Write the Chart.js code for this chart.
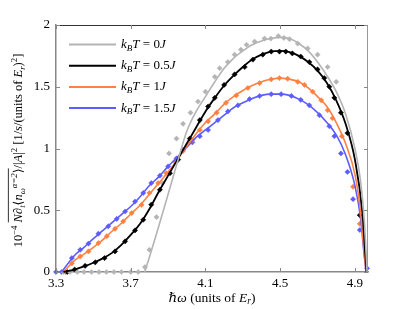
<!DOCTYPE html>
<html>
<head>
<meta charset="utf-8">
<script src="https://cdn.jsdelivr.net/npm/chart.js@4"></script>
<style>
  html, body { margin: 0; padding: 0; background: #fff; }
  #wrap { width: 411px; height: 309px; }
</style>
</head>
<body>
<div id="wrap"><canvas id="chart" width="411" height="309"></canvas></div>
<script>
// axis ticks
const xTicks = [3.3, 3.7, 4.1, 4.5, 4.9];
const yTicks = [0, 0.5, 1, 1.5, 2];
const temps = ["0", "0.5", "1", "1.5"];

// k_B T = 0J
const grayCurveX = [3.775, 3.8, 3.85, 3.9, 3.95, 4.0, 4.05, 4.1, 4.15, 4.2, 4.25, 4.3, 4.35, 4.4, 4.45, 4.5, 4.55, 4.6, 4.65, 4.7, 4.75, 4.8, 4.85, 4.9, 4.93, 4.95, 4.965];
const grayCurveY = [0, 0.12, 0.37, 0.63, 0.89, 1.14, 1.30, 1.42, 1.54, 1.65, 1.73, 1.79, 1.84, 1.87, 1.89, 1.90, 1.89, 1.85, 1.79, 1.70, 1.59, 1.46, 1.28, 1.0, 0.74, 0.42, 0];
const grayDotX = [3.34, 3.375, 3.414, 3.45, 3.49, 3.53, 3.57, 3.61, 3.65, 3.70, 3.74, 3.776, 3.80, 3.838, 3.87, 3.905, 3.945, 3.98, 4.02, 4.06, 4.10, 4.15, 4.176, 4.22, 4.256, 4.29, 4.32, 4.363, 4.416, 4.45, 4.49, 4.52, 4.55, 4.594, 4.647, 4.70, 4.754, 4.80];
const grayDotY = [0, 0, 0, 0, 0, 0, 0, 0, 0, 0, 0, 0.04, 0.18, 0.445, 0.72, 0.96, 1.08, 1.20, 1.29, 1.38, 1.46, 1.58, 1.65, 1.70, 1.76, 1.80, 1.84, 1.866, 1.89, 1.89, 1.91, 1.895, 1.885, 1.85, 1.81, 1.76, 1.66, 1.54];

// k_B T = 0.5J
const blackCurveX = [3.34, 3.4, 3.45, 3.5, 3.55, 3.6, 3.65, 3.7, 3.75, 3.8, 3.85, 3.9, 3.95, 4.0, 4.05, 4.1, 4.15, 4.2, 4.25, 4.3, 4.35, 4.4, 4.45, 4.5, 4.55, 4.6, 4.65, 4.7, 4.75, 4.8, 4.85, 4.9, 4.94, 4.955, 4.962];
const blackCurveY = [0, 0.02, 0.045, 0.075, 0.11, 0.155, 0.22, 0.30, 0.39, 0.51, 0.65, 0.78, 0.91, 1.04, 1.17, 1.30, 1.41, 1.51, 1.59, 1.66, 1.72, 1.76, 1.785, 1.79, 1.78, 1.75, 1.70, 1.63, 1.53, 1.39, 1.20, 0.91, 0.48, 0.15, 0];
const blackDotX = [3.36, 3.40, 3.456, 3.51, 3.56, 3.616, 3.67, 3.723, 3.767, 3.81, 3.856, 3.91, 3.954, 4.016, 4.07, 4.114, 4.15, 4.2, 4.256, 4.31, 4.354, 4.407, 4.452, 4.496, 4.53, 4.565, 4.61, 4.656, 4.70, 4.736, 4.763, 4.79, 4.825, 4.86, 4.926];
const blackDotY = [0, 0.02, 0.05, 0.078, 0.113, 0.167, 0.248, 0.337, 0.423, 0.545, 0.666, 0.80, 0.91, 1.08, 1.23, 1.34, 1.41, 1.515, 1.60, 1.66, 1.72, 1.76, 1.785, 1.785, 1.785, 1.77, 1.745, 1.70, 1.64, 1.57, 1.50, 1.41, 1.29, 1.125, 0.46];

// k_B T = 1J
const orangeCurveX = [3.34, 3.4, 3.45, 3.5, 3.55, 3.6, 3.65, 3.7, 3.75, 3.8, 3.85, 3.9, 3.95, 4.0, 4.05, 4.1, 4.15, 4.2, 4.25, 4.3, 4.35, 4.4, 4.45, 4.5, 4.55, 4.6, 4.65, 4.7, 4.75, 4.8, 4.85, 4.9, 4.93, 4.95, 4.96];
const orangeCurveY = [0, 0.095, 0.145, 0.20, 0.26, 0.33, 0.395, 0.47, 0.54, 0.63, 0.72, 0.81, 0.91, 1.02, 1.12, 1.21, 1.28, 1.36, 1.42, 1.47, 1.51, 1.54, 1.56, 1.57, 1.56, 1.54, 1.49, 1.42, 1.34, 1.21, 1.04, 0.79, 0.49, 0.15, 0];
const orangeDotX = [3.35, 3.385, 3.43, 3.474, 3.527, 3.572, 3.616, 3.66, 3.705, 3.758, 3.80, 3.847, 3.89, 3.936, 3.98, 4.03, 4.07, 4.114, 4.16, 4.21, 4.265, 4.327, 4.39, 4.452, 4.496, 4.54, 4.594, 4.63, 4.674, 4.72, 4.754, 4.78, 4.83, 4.89, 4.926];
const orangeDotY = [0, 0.07, 0.126, 0.167, 0.234, 0.29, 0.35, 0.41, 0.477, 0.544, 0.64, 0.72, 0.80, 0.895, 0.98, 1.07, 1.15, 1.22, 1.29, 1.37, 1.43, 1.49, 1.53, 1.56, 1.57, 1.565, 1.54, 1.515, 1.46, 1.39, 1.31, 1.245, 1.10, 0.69, 0.39];

// k_B T = 1.5J
const blueCurveX = [3.33, 3.4, 3.45, 3.5, 3.55, 3.6, 3.65, 3.7, 3.75, 3.8, 3.85, 3.9, 3.95, 4.0, 4.05, 4.1, 4.15, 4.2, 4.25, 4.3, 4.35, 4.4, 4.45, 4.5, 4.55, 4.6, 4.65, 4.7, 4.75, 4.8, 4.85, 4.9, 4.93, 4.95, 4.96];
const blueCurveY = [0, 0.135, 0.20, 0.27, 0.335, 0.40, 0.465, 0.53, 0.61, 0.70, 0.77, 0.855, 0.93, 1.01, 1.09, 1.15, 1.21, 1.27, 1.33, 1.37, 1.405, 1.43, 1.44, 1.44, 1.43, 1.40, 1.355, 1.29, 1.21, 1.11, 0.95, 0.70, 0.44, 0.13, 0];
const blueDotX = [3.30, 3.33, 3.385, 3.43, 3.474, 3.527, 3.58, 3.625, 3.67, 3.723, 3.767, 3.81, 3.856, 3.9, 3.945, 3.98, 4.03, 4.07, 4.114, 4.167, 4.22, 4.274, 4.336, 4.39, 4.452, 4.505, 4.56, 4.61, 4.656, 4.71, 4.763, 4.79, 4.825, 4.86, 4.89, 4.926, 4.965];
const blueDotY = [0, 0, 0.113, 0.18, 0.23, 0.31, 0.37, 0.43, 0.49, 0.57, 0.64, 0.72, 0.78, 0.855, 0.92, 0.99, 1.05, 1.10, 1.15, 1.23, 1.30, 1.35, 1.40, 1.425, 1.44, 1.44, 1.426, 1.394, 1.35, 1.27, 1.18, 1.10, 0.96, 0.81, 0.59, 0.34, 0.03];

const colors = ["#b4b4b4", "#000000", "#ff8040", "#5c5cff"];
const SERIF = '"Liberation Serif", "DejaVu Serif", serif';

function pts(xs, ys) { return xs.map((x, i) => ({ x: x, y: ys[i] })); }

const curves = [[grayCurveX, grayCurveY], [blackCurveX, blackCurveY], [orangeCurveX, orangeCurveY], [blueCurveX, blueCurveY]];
const dots = [[grayDotX, grayDotY], [blackDotX, blackDotY], [orangeDotX, orangeDotY], [blueDotX, blueDotY]];

const datasets = [];
curves.forEach((c, i) => {
  datasets.push({
    label: "k_BT=" + temps[i] + "J",
    data: pts(c[0], c[1]),
    showLine: true,
    borderColor: colors[i],
    borderWidth: i === 1 ? 1.8 : 1.6,
    pointRadius: 0,
    cubicInterpolationMode: "monotone",
    clip: 4
  });
});
dots.forEach((d, i) => {
  datasets.push({
    label: "markers " + temps[i],
    data: pts(d[0], d[1]),
    showLine: false,
    pointStyle: "rectRot",
    pointRadius: 2.6,
    backgroundColor: colors[i],
    borderColor: colors[i],
    borderWidth: 0.5,
    clip: 6
  });
});

// rich text: segments {t, it, sub, sup}
function richWidth(ctx, segs, size) {
  let w = 0;
  segs.forEach(s => {
    const sz = (s.sub || s.sup) ? size * 0.7 : size;
    ctx.font = (s.it ? "italic " : "") + sz + "px " + SERIF;
    w += ctx.measureText(s.t).width;
  });
  return w;
}
function drawRich(ctx, segs, x, y, size) {
  let cx = x;
  const spans = [];
  segs.forEach(s => {
    const sz = (s.sub || s.sup) ? size * 0.7 : size;
    ctx.font = (s.it ? "italic " : "") + sz + "px " + SERIF;
    const dy = s.sub ? size * 0.28 : (s.sup ? -size * 0.38 : 0);
    ctx.fillText(s.t, cx, y + dy);
    const w = ctx.measureText(s.t).width;
    spans.push([cx, w]);
    cx += w;
  });
  return spans;
}

const decor = {
  id: "decor",
  afterDraw(chart) {
    const ctx = chart.ctx;
    const a = chart.chartArea;
    const xs = chart.scales.x, ys = chart.scales.y;
    ctx.save();
    // box
    ctx.lineWidth = 1;
    ctx.strokeStyle = "#333";
    ctx.beginPath(); ctx.moveTo(a.left, a.top + 0.5); ctx.lineTo(a.right, a.top + 0.5); ctx.stroke();
    ctx.strokeStyle = "#999";
    ctx.beginPath(); ctx.moveTo(a.right - 0.5, a.top); ctx.lineTo(a.right - 0.5, a.bottom); ctx.stroke();
    // inward ticks
    ctx.strokeStyle = "#888";
    xTicks.forEach(v => {
      const p = Math.round(xs.getPixelForValue(v)) + 0.5;
      ctx.beginPath(); ctx.moveTo(p, a.bottom); ctx.lineTo(p, a.bottom - 4); ctx.stroke();
      ctx.beginPath(); ctx.moveTo(p, a.top); ctx.lineTo(p, a.top + 4); ctx.stroke();
    });
    yTicks.forEach(v => {
      const p = Math.round(ys.getPixelForValue(v)) + 0.5;
      ctx.beginPath(); ctx.moveTo(a.left, p); ctx.lineTo(a.left + 4, p); ctx.stroke();
      ctx.beginPath(); ctx.moveTo(a.right, p); ctx.lineTo(a.right - 4, p); ctx.stroke();
    });

    // legend
    ctx.textBaseline = "middle";
    ctx.fillStyle = "#000";
    temps.forEach((t, i) => {
      const yy = a.top + 19.5 + i * 21.2;
      ctx.strokeStyle = colors[i];
      ctx.lineWidth = 2;
      ctx.beginPath(); ctx.moveTo(69, yy); ctx.lineTo(116, yy); ctx.stroke();
      ctx.fillStyle = "#000";
      drawRich(ctx, [
        { t: "k", it: true }, { t: "B", it: true, sub: true }, { t: "T", it: true },
        { t: " = " + t }, { t: "J", it: true }
      ], 121, yy, 13);
    });

    // x title
    const xSegs = [{ t: "ℏω", it: true }, { t: " (units of " }, { t: "E", it: true }, { t: "r", it: true, sub: true }, { t: ")" }];
    const xw = richWidth(ctx, xSegs, 13.5);
    drawRich(ctx, xSegs, (a.left + a.right) / 2 - xw / 2, 298, 13.5);

    // y title (rotated)
    const ySegs = [
      { t: "10" }, { t: "−4", sup: true }, { t: " " },
      { t: "N", it: true }, { t: "∂" }, { t: "t", it: true, sub: true }, { t: "⟨" }, { t: "n", it: true },
      { t: "ω", it: true, sub: true }, { t: "α=2", it: true, sup: true }, { t: "⟩" },
      { t: "/|" }, { t: "A", it: true }, { t: "|" }, { t: "2", sup: true },
      { t: " [1/" }, { t: "s", it: true }, { t: "/(units of " }, { t: "E", it: true }, { t: "r", it: true, sub: true },
      { t: ")" }, { t: "2", sup: true }, { t: "]" }
    ];
    const ysz = 12.5;
    const yw = richWidth(ctx, ySegs, ysz);
    ctx.translate(19, (a.top + a.bottom) / 2 + 2);
    ctx.rotate(-Math.PI / 2);
    const spans = drawRich(ctx, ySegs, -yw / 2, 0, ysz);
    // overline over N ... ⟩
    ctx.strokeStyle = "#000";
    ctx.lineWidth = 0.8;
    const s0 = spans[3], s1 = spans[10];
    ctx.beginPath(); ctx.moveTo(s0[0], -ysz * 0.85); ctx.lineTo(s1[0] + s1[1], -ysz * 0.85); ctx.stroke();
    ctx.restore();
  }
};

new Chart(document.getElementById("chart"), {
  type: "scatter",
  data: { datasets: datasets },
  options: {
    responsive: false,
    animation: false,
    layout: { padding: { left: 0, top: 25, right: 43, bottom: 0 } },
    plugins: { legend: { display: false }, tooltip: { enabled: false } },
    scales: {
      x: {
        type: "linear",
        min: 3.3,
        max: 4.97,
        afterBuildTicks: s => { s.ticks = xTicks.map(v => ({ value: v })); },
        afterFit: s => { s.height = 37; },
        grid: { drawOnChartArea: false, drawTicks: false },
        border: { display: true, color: "#888", width: 1.5 },
        ticks: { color: "#000", padding: 4, font: { family: SERIF, size: 13 }, callback: v => String(v), maxRotation: 0 }
      },
      y: {
        type: "linear",
        min: 0,
        max: 2,
        afterBuildTicks: s => { s.ticks = yTicks.map(v => ({ value: v })); },
        afterFit: s => { s.width = 56; },
        grid: { drawOnChartArea: false, drawTicks: false },
        border: { display: true, color: "#888", width: 1.5 },
        ticks: { color: "#000", padding: 6, font: { family: SERIF, size: 13 }, callback: v => String(v) }
      }
    }
  },
  plugins: [decor]
});
</script>
</body>
</html>
